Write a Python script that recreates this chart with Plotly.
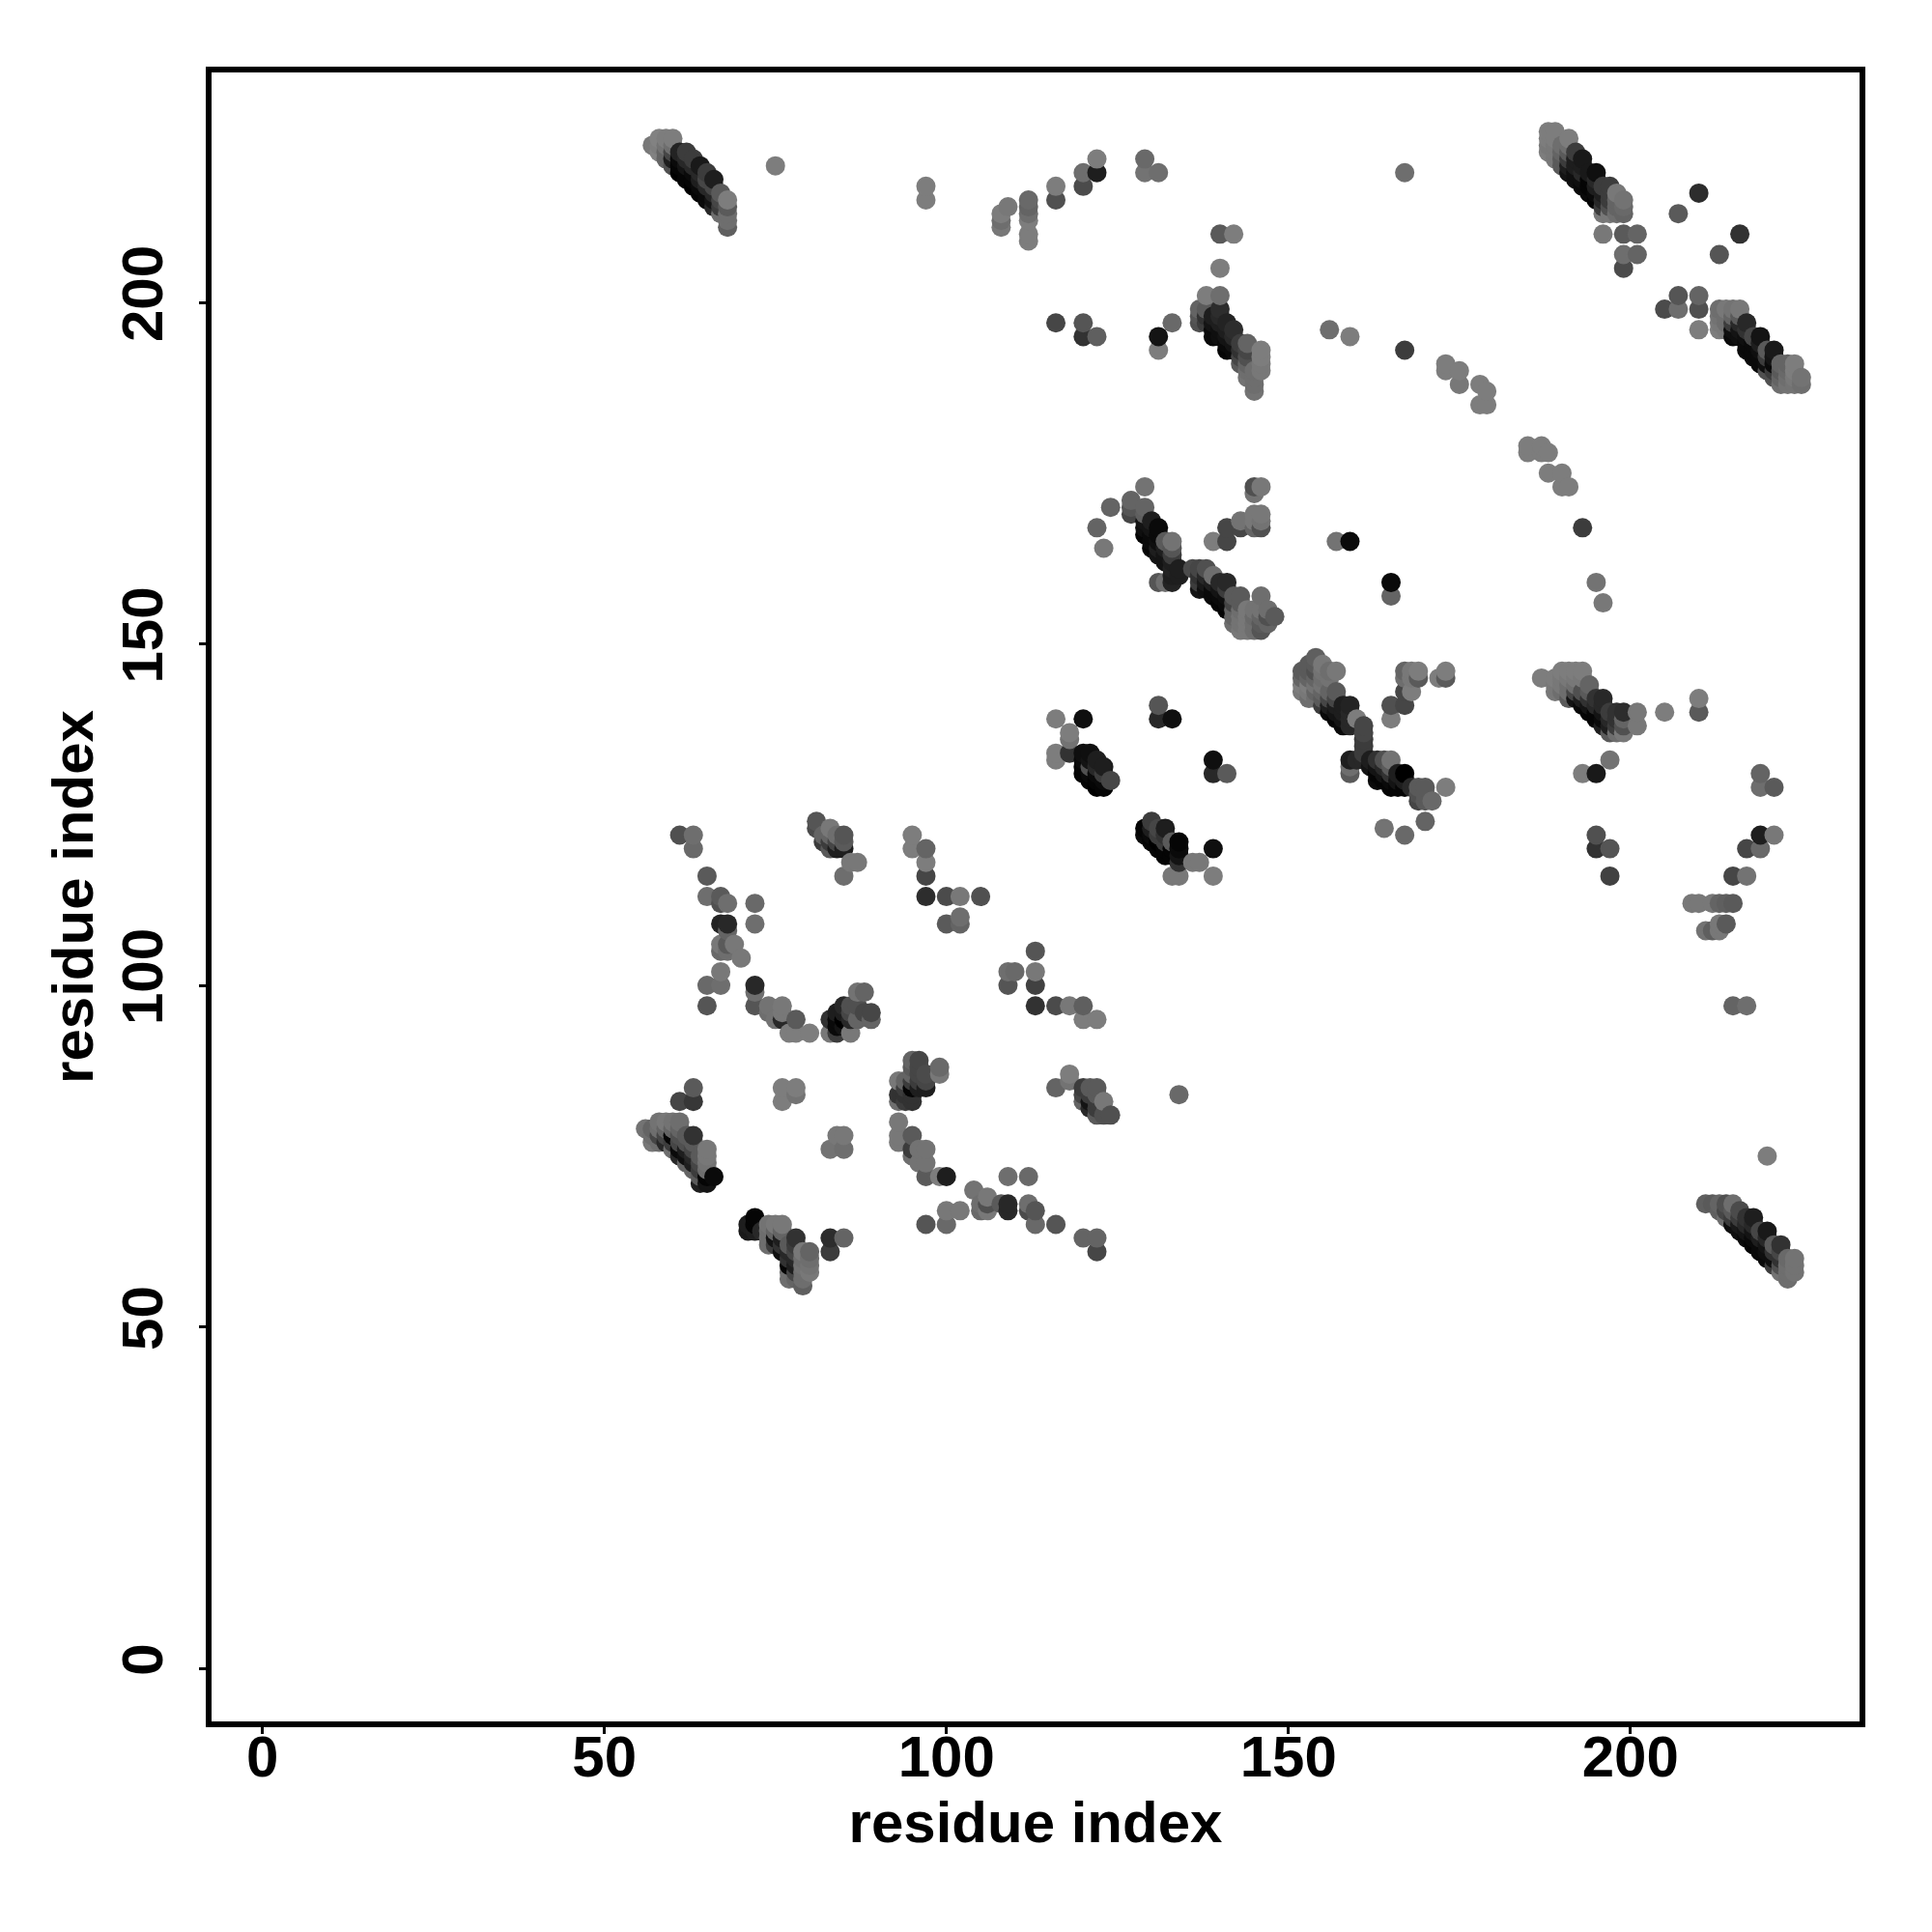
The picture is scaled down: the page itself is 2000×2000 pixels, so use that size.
import plotly.graph_objects as go

# Each contact: (residue x, residue y, grey level of the dot)
band_57_68 = [
 (57,223,120),(58,224,130),(58,223,125),(58,222,130),
 (59,224,125),(59,223,115),(59,222,100),(59,221,100),
 (60,224,125),(60,223,110),(60,222,70),(60,221,30),(60,220,80),
 (61,222,35),(61,221,10),(61,220,5),(61,219,0),
 (62,222,60),(62,221,40),(62,220,20),(62,219,5),(62,218,5),
 (63,221,60),(63,220,40),(63,219,10),(63,218,5),(63,217,0),
 (64,220,25),(64,219,40),(64,218,30),(64,217,10),(64,216,5),
 (65,219,60),(65,218,70),(65,217,40),(65,216,10),(65,215,10),
 (66,218,30),(66,217,70),(66,216,40),(66,215,20),(66,214,40),
 (67,216,90),(67,215,70),(67,214,60),(67,213,110),
 (68,215,125),(68,214,90),(68,213,110),(68,212,110),(68,211,95)]
upper_scatter = [
 (75,220,125),(97,217,125),(97,215,125),(108,213,125),(108,212,110),(108,211,120),(109,214,120),
 (112,215,105),(112,214,100),(112,213,110),(112,212,125),(112,210,125),(112,209,125),
 (116,217,125),(116,215,80),(120,219,110),(120,217,75),(122,221,125),(122,219,30),
 (129,221,105),(129,219,115),(131,219,110),(116,197,70),(120,197,85),(120,195,50),(122,195,95),
 (131,195,20),(131,193,125),(167,219,110),(140,210,90),(142,210,125),(140,205,125),
 (133,197,105),(156,196,110),(159,195,125),(167,193,60),
 (173,191,125),(173,190,125),(175,190,125),(175,188,120),(178,188,125),(179,187,125),(178,185,125),(179,185,125)]
band_137_146 = [
 (137,199,100),(137,198,85),(137,197,80),
 (138,201,125),(138,199,90),(138,198,50),(138,197,60),
 (139,198,30),(139,197,20),(139,196,10),(139,195,10),
 (140,201,110),(140,199,45),(140,198,40),(140,197,30),(140,196,15),(140,195,15),
 (141,197,35),(141,196,30),(141,195,20),(141,194,10),(141,193,5),
 (142,196,45),(142,195,40),(142,194,20),(142,193,10),
 (143,194,60),(143,193,50),(143,192,70),(143,191,90),
 (144,194,100),(144,193,70),(144,192,80),(144,191,100),(144,190,110),(144,189,115),
 (145,190,110),(145,189,110),(145,188,110),(145,187,115),
 (146,193,125),(146,192,125),(146,191,120),(146,190,120)]
band_188_199 = [
 (188,225,125),(188,224,125),(188,223,120),(188,222,125),
 (189,225,125),(189,224,125),(189,223,120),(189,222,120),(189,221,120),
 (190,223,110),(190,222,100),(190,221,90),(190,220,90),
 (191,224,125),(191,223,110),(191,222,90),(191,221,60),(191,220,30),(191,219,20),
 (192,222,60),(192,221,30),(192,220,30),(192,219,15),(192,218,15),
 (193,221,25),(193,220,30),(193,219,40),(193,218,15),(193,217,10),
 (194,219,25),(194,218,5),(194,217,5),(194,216,10),
 (195,219,15),(195,218,40),(195,217,30),(195,216,10),(195,215,5),
 (196,217,60),(196,216,30),(196,215,40),(196,214,60),(196,213,120),
 (197,217,60),(197,216,60),(197,215,60),(197,214,80),(197,213,120),
 (198,216,120),(198,215,100),(198,214,100),(198,213,110),
 (199,215,115),(199,214,105),(199,213,100),
 (196,210,120),(199,210,90),(201,210,100),(199,207,110),(201,207,100),(199,205,75),
 (210,216,45),(207,213,90),(216,210,50),(213,207,85),
 (207,201,85),(210,201,100),(205,199,75),(207,199,110),(210,199,80),(210,196,125)]
band_213_225 = [
 (213,199,110),(213,198,115),(213,197,120),(213,196,125),
 (214,199,120),(214,198,110),(214,197,110),(214,196,120),
 (215,199,115),(215,198,100),(215,197,60),(215,196,15),(215,195,10),
 (216,199,120),(216,198,90),(216,197,40),(216,196,20),(216,195,15),
 (217,197,40),(217,196,50),(217,195,15),(217,194,10),(217,193,10),
 (218,195,70),(218,194,10),(218,193,10),(218,192,10),
 (219,195,20),(219,194,30),(219,193,15),(219,192,10),(219,191,10),
 (220,193,90),(220,192,60),(220,191,15),(220,190,80),
 (221,193,25),(221,192,20),(221,191,10),(221,190,60),(221,189,80),
 (222,191,100),(222,190,90),(222,189,100),(222,188,110),
 (223,191,100),(223,190,105),(223,189,110),(223,188,115),
 (224,191,125),(224,190,125),(224,189,120),(224,188,115),
 (225,189,115),(225,188,110)]
arc_185_196 = [
 (185,179,125),(185,178,125),(187,179,125),(187,178,125),(188,178,125),(188,175,125),(190,175,125),
 (190,173,125),(191,173,125),(193,167,60),(195,159,115),(196,156,120),(157,165,115),(159,165,10),
 (165,159,10),(165,157,100)]
band_122_148 = [
 (122,167,100),(123,164,120),(124,170,100),
 (127,171,100),(127,170,85),(127,169,70),(129,173,115),(129,170,100),(129,169,95),
 (129,168,20),(129,167,15),(129,166,5),(130,168,30),(130,167,20),(130,166,10),(130,165,10),(130,164,5),
 (131,167,10),(131,166,10),(131,165,15),(131,164,30),(131,163,20),(131,159,85),
 (132,165,90),(132,164,30),(132,163,20),(132,162,20),(132,159,110),
 (133,165,115),(133,164,85),(133,163,60),(133,162,30),(133,161,35),(133,160,30),(133,159,35),
 (134,161,30),(134,160,30),(136,161,75),
 (137,161,70),(137,160,50),(137,159,60),(137,158,20),
 (138,161,80),(138,160,40),(138,159,25),(138,158,15),
 (139,160,110),(139,159,30),(139,158,10),(139,157,10),
 (140,159,40),(140,158,20),(140,157,10),(140,156,5),
 (141,159,40),(141,158,60),(141,157,15),(141,156,10),(141,155,5),
 (142,157,90),(142,156,70),(142,155,100),(142,154,100),(142,153,110),
 (143,157,90),(143,156,90),(143,155,110),(143,154,115),(143,153,115),(143,152,120),
 (144,155,120),(144,154,120),(144,153,120),(144,152,120),
 (145,155,115),(145,154,105),(145,153,110),(145,152,110),
 (146,157,110),(146,155,115),(146,154,100),(146,153,90),(146,152,85),
 (147,155,110),(147,154,80),(147,153,100),(148,154,90),
 (145,173,80),(146,173,120),(145,172,115),(145,169,120),(146,169,120),(145,168,120),(146,168,115),
 (146,167,80),(145,167,100),(143,168,115),(143,167,70),(141,167,70),(141,165,70),(139,165,125)]
band_152_173 = [
 (152,146,90),(152,145,100),(152,144,125),(152,143,120),
 (153,147,90),(153,146,90),(153,145,100),(153,144,125),(153,143,120),(153,142,110),
 (154,148,95),(154,147,90),(154,146,80),(154,145,100),(154,144,115),(154,143,100),(154,142,110),
 (155,147,120),(155,146,115),(155,145,110),(155,144,115),(155,143,100),(155,142,90),(155,141,60),
 (156,146,110),(156,145,115),(156,143,100),(156,142,70),(156,141,30),(156,140,10),
 (157,146,120),(157,143,90),(157,142,70),(157,141,30),(157,140,20),(157,139,5),
 (158,141,30),(158,140,30),(158,139,20),(158,138,10),
 (159,141,35),(159,140,40),(159,139,40),(159,138,40),(159,133,30),(159,132,110),(159,131,90),
 (160,139,125),(160,133,40),
 (161,138,70),(161,137,70),(161,136,60),(161,135,60),(161,134,60),(161,133,40),
 (162,133,30),(162,132,20),
 (163,133,50),(163,132,20),(163,131,5),(163,130,10),
 (164,133,80),(164,132,40),(164,131,20),(164,130,5),
 (165,133,115),(165,132,90),(165,131,50),(165,130,10),(165,129,5),
 (166,131,30),(166,130,20),(166,129,5),
 (167,131,0),(167,130,30),(167,129,5),(168,129,40),
 (169,129,90),(169,128,80),(169,127,70),(170,129,90),(170,128,90),(170,127,90),(171,127,105),(173,129,125),
 (170,124,100),(164,123,115),(167,122,105),
 (167,146,100),(168,146,120),(169,146,125),(167,145,110),(168,145,120),(169,145,90),(168,143,125),(167,143,70),
 (167,141,70),(165,141,80),(165,139,125),(172,145,125),(173,146,125),(173,145,90)]
band_187_199 = [
 (187,145,125),(189,145,125),(189,144,120),(189,143,120),(190,146,125),(190,145,120),(190,144,120),(190,143,110),
 (191,146,125),(191,145,120),(191,144,110),(191,143,110),(191,142,90),
 (192,146,125),(192,145,120),(192,144,110),(192,143,70),(192,142,20),
 (193,146,125),(193,145,120),(193,143,80),(193,142,30),(193,141,10),
 (194,144,100),(194,143,90),(194,142,50),(194,141,20),(194,140,5),
 (195,142,50),(195,141,40),(195,140,5),(195,139,5),
 (196,142,40),(196,141,40),(196,140,20),(196,139,10),(196,138,30),
 (197,140,60),(197,139,40),(197,138,30),(197,137,90),
 (198,140,50),(198,139,50),(198,138,60),(198,137,110),
 (199,140,45),(199,139,100),(199,138,80),(199,137,120),
 (201,140,120),(201,138,120),(205,140,125),(210,142,125),(210,140,90),
 (197,133,115),(193,131,125),(195,131,25),(195,122,80),(195,120,50),(197,120,85),(197,116,65)]
right_scatter = [
 (219,131,100),(219,129,110),(221,129,90),(219,122,30),(221,122,120),(217,120,70),(219,120,105),
 (215,116,70),(217,116,115),(209,112,120),(210,112,120),(212,112,120),(213,112,100),(214,112,95),(215,112,90),
 (211,108,115),(212,108,95),(213,108,120),(213,109,120),(214,109,90),(215,97,100),(217,97,110),(220,75,125)]
band_211_224 = [
 (211,68,95),(212,68,90),(213,68,100),(213,67,95),
 (214,68,80),(214,67,70),(214,66,110),
 (215,68,110),(215,67,90),(215,66,60),(215,65,15),
 (216,67,75),(216,66,60),(216,65,25),(216,64,15),
 (217,66,50),(217,65,40),(217,64,20),(217,63,10),
 (218,66,30),(218,65,40),(218,64,20),(218,63,10),(218,62,5),
 (219,64,70),(219,63,30),(219,62,10),(219,61,10),
 (220,64,25),(220,63,40),(220,62,20),(220,61,15),(220,60,10),
 (221,62,90),(221,61,50),(221,60,15),(221,59,60),
 (222,62,50),(222,61,70),(222,60,50),(222,59,80),(222,58,115),
 (223,60,105),(223,59,110),(223,58,110),(223,57,110),
 (224,60,115),(224,59,115),(224,58,115)]
cluster_116_134 = [
 (116,139,125),(120,139,15),(118,137,125),(118,136,115),(116,134,125),(116,133,125),(118,134,50),
 (120,134,15),(120,133,10),(120,132,5),(120,131,5),(121,134,15),(121,133,20),(121,132,80),(121,131,10),(121,130,5),
 (122,133,30),(122,132,40),(122,131,10),(122,130,5),(122,129,0),
 (123,132,30),(123,131,60),(123,130,10),(123,129,5),(124,130,70),
 (131,141,85),(131,139,40),(133,139,15),(139,133,15),(139,131,40),(141,131,90),
 (129,123,5),(129,122,10),(130,124,60),(130,123,30),(130,122,10),(130,121,5),
 (131,123,70),(131,122,60),(131,121,0),(131,120,5),(132,123,30),(132,122,50),(132,121,60),(132,120,5),(132,119,5),
 (133,121,90),(133,120,5),(133,119,5),(133,116,120),(134,121,5),(134,120,10),(134,119,20),(134,118,50),(134,116,120),
 (136,118,120),(137,118,120),(139,120,15),(139,116,125)]
cluster_61_89 = [
 (61,122,80),(63,122,110),(63,120,105),(65,116,90),(65,113,110),(67,113,90),(67,112,80),(68,112,110),
 (72,112,105),(72,109,110),(67,109,35),(68,109,40),(68,108,100),(67,106,120),(68,106,90),(69,106,120),
 (67,105,105),(68,105,110),(70,104,120),(67,102,120),(65,100,105),(67,100,110),(65,97,85),
 (72,100,40),(72,99,110),(72,97,85),(74,97,115),(76,97,120),(74,96,110),(76,96,120),(75,95,115),(76,95,40),
 (78,95,90),(77,93,125),(78,93,125),(80,93,125),
 (83,95,50),(84,96,30),(84,95,10),(83,93,120),(84,94,10),(84,93,60),(86,93,120),(85,97,40),(85,96,30),(85,95,0),(85,94,20),
 (86,97,80),(86,96,70),(86,95,40),(87,95,100),(87,99,115),(88,99,100),(87,97,80),(88,96,70),(89,96,70),(89,95,100),
 (81,124,85),(81,123,75),(82,122,100),(82,121,60),(83,123,120),(83,122,100),(83,121,60),(83,120,90),
 (84,122,110),(84,121,70),(84,120,30),(85,122,85),(85,121,90),(85,120,30),(86,118,120),(87,118,120),(85,116,110)]
cluster_95_122 = [
 (95,122,125),(95,120,125),(97,120,100),(97,118,125),(97,116,70),(97,113,45),(100,113,75),(102,113,120),(105,113,80),
 (100,109,90),(102,110,110),(102,109,100),(113,105,85),(109,102,110),(110,102,105),(113,102,120),(109,100,85),
 (113,100,65),(113,97,50),(116,97,75),(118,97,120),(120,97,95),(120,95,125),(122,95,125)]
cluster_56_66 = [
 (63,85,90),(61,83,70),(63,83,55),(56,79,115),
 (57,79,100),(57,78,110),(57,77,120),
 (58,80,115),(58,79,110),(58,78,70),(58,77,110),
 (59,80,120),(59,79,100),(59,78,70),(59,77,40),
 (60,80,115),(60,79,100),(60,78,5),(60,77,60),(60,76,110),
 (61,80,110),(61,79,100),(61,78,80),(61,77,70),(61,76,10),(61,75,40),
 (62,78,90),(62,77,80),(62,76,30),(62,75,15),(62,74,100),
 (63,78,50),(63,77,90),(63,76,70),(63,75,40),(63,74,30),(63,73,100),
 (64,75,90),(64,74,70),(64,73,60),(64,72,90),(64,71,30),
 (65,76,120),(65,75,120),(65,74,115),(65,73,110),(65,72,5),(65,71,20),(66,72,10),
 (76,85,125),(78,85,125),(78,84,115),(76,83,125),(84,78,120),(85,78,120),(83,76,115),(85,76,110)]
cluster_71_85 = [
 (71,65,30),(71,64,25),(72,66,5),(72,65,5),(72,64,30),(73,64,40),
 (74,65,115),(74,64,110),(74,63,110),(74,62,110),
 (75,65,120),(75,64,100),(75,63,20),(75,62,60),
 (76,65,120),(76,64,100),(76,63,30),(76,62,50),(76,61,15),
 (77,62,90),(77,61,40),(77,60,50),(77,59,5),(77,58,110),(77,57,110),
 (78,63,50),(78,62,60),(78,61,70),(78,60,40),(78,59,30),(78,58,70),(78,57,100),
 (79,61,120),(79,60,110),(79,59,115),(79,58,110),(79,57,110),(79,56,95),
 (80,61,100),(80,60,110),(80,59,115),(80,58,120),
 (83,63,45),(85,63,100),(83,61,60)]
cluster_93_99 = [
 (93,86,120),(93,84,50),(93,83,110),(94,86,100),(94,85,60),(94,84,50),(94,83,60),
 (95,89,100),(95,88,90),(95,87,100),(95,86,60),(95,85,5),(95,84,50),(95,83,50),
 (96,89,70),(96,88,70),(96,87,70),(96,86,60),(96,85,30),
 (97,87,75),(97,86,70),(97,85,30),(99,88,105),(99,87,120),
 (93,80,120),(93,78,120),(93,77,120),(95,78,90),(95,76,60),(95,75,110),(96,76,115),(97,76,115),(96,74,115),(97,74,115),
 (97,72,90),(99,72,125),(100,72,30)]
cluster_97_124 = [
 (100,67,120),(102,67,120),(97,65,85),(100,65,105),
 (104,70,115),(105,68,110),(105,67,105),(106,69,120),(106,68,80),(106,67,120),
 (108,68,90),(109,68,40),(109,67,40),(109,72,110),(112,72,105),(112,68,110),(112,67,75),(113,67,85),(113,65,105),(116,65,85),
 (120,63,100),(122,63,100),(122,61,70),
 (116,85,100),(118,87,125),(118,86,115),(120,85,60),(120,84,70),(120,83,100),
 (121,85,90),(121,84,60),(121,83,20),(121,82,40),(122,85,90),(122,84,90),(122,83,60),(122,82,60),(122,81,90),
 (123,83,120),(123,81,80),(124,81,80),(134,84,105)]

clusters = [band_57_68, upper_scatter, band_137_146, band_188_199, band_213_225, arc_185_196,
            band_122_148, band_152_173, band_187_199, right_scatter, band_211_224, cluster_116_134,
            cluster_61_89, cluster_95_122, cluster_56_66, cluster_71_85, cluster_93_99, cluster_97_124]
contacts = sorted({(x, y): g for c in clusters for x, y, g in c}.items())

x_tick_values = [0, 50, 100, 150, 200]
y_tick_values = [0, 50, 100, 150, 200]

fig = go.Figure(go.Scatter(
    x=[k[0] for k, g in contacts], y=[k[1] for k, g in contacts], mode="markers",
    marker=dict(size=20, color=[f"rgb({g},{g},{g})" for k, g in contacts], line=dict(width=0)),
    showlegend=False, cliponaxis=False))

font = dict(family="Liberation Sans", size=60, color="black", weight="bold")
axis = dict(showgrid=False, zeroline=False, showline=True, mirror=True, linecolor="black", linewidth=6,
            ticks="outside", ticklen=7, tickwidth=3, tickcolor="black", tickfont=font)
fig.update_layout(
    width=2000, height=2000, paper_bgcolor="white", plot_bgcolor="white",
    margin=dict(l=211, r=83, t=67, b=226, autoexpand=False),
    xaxis=dict(axis, range=[-7.44, 233.5], tickvals=x_tick_values, ticklabelstandoff=-28,
               title=dict(text="<b>residue index</b>", font=font, standoff=16), automargin=False),
    yaxis=dict(axis, range=[-7.78, 233.67], tickvals=y_tick_values, tickangle=-90, ticklabelstandoff=14,
               title=dict(text="<b>residue index</b>", font=font, standoff=0), automargin=False))
fig.write_html("out.html")
